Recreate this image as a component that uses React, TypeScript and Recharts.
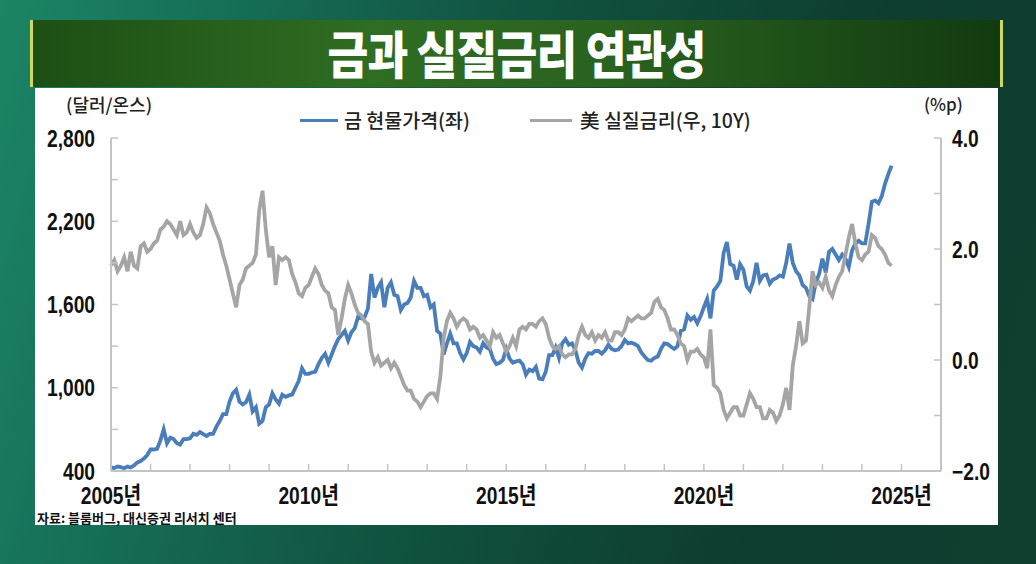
import React from 'react';
import { LineChart, Line, XAxis, YAxis } from 'recharts';

// monthly, Jan 2005 - Oct 2024
const startYear = 2005;

// 금 현물가격 (달러/온스)
const gold = [
  425, 422, 432, 428, 420, 432, 425, 440, 462, 472, 490, 515,
  555, 555, 560, 620, 700, 600, 640, 630, 600, 590, 630, 630,
  635, 668, 660, 680, 665, 652, 668, 668, 720, 760, 810, 810,
  900, 960, 985, 900, 880, 895, 950, 830, 860, 740, 760, 860,
  880, 960, 915, 885, 950, 935, 945, 950, 1000, 1050, 1140, 1100,
  1100, 1110, 1115, 1170, 1215, 1245, 1180, 1240, 1300, 1350, 1380, 1410,
  1340, 1400, 1430, 1510, 1500, 1510, 1570, 1820, 1650, 1720, 1760, 1580,
  1720, 1760, 1670, 1660, 1560, 1600, 1610, 1650, 1770, 1720, 1720, 1660,
  1670, 1580, 1600, 1410, 1390, 1240, 1320, 1390, 1320, 1320, 1250, 1205,
  1250, 1330, 1300, 1290, 1260, 1320, 1290, 1280, 1210, 1170, 1180, 1200,
  1280, 1210, 1180, 1190, 1195, 1170, 1095, 1130, 1120, 1150, 1065, 1060,
  1115, 1235, 1235, 1290, 1215, 1320, 1350, 1310, 1320, 1270, 1180, 1145,
  1210, 1250, 1245, 1265, 1265, 1245, 1270, 1310, 1280, 1270, 1275, 1300,
  1345, 1320, 1325, 1315, 1300, 1255, 1225, 1200, 1195, 1215, 1225, 1280,
  1320, 1315, 1295, 1280, 1300, 1410, 1420, 1520, 1490, 1510, 1465, 1515,
  1580, 1640, 1500, 1700, 1730, 1770, 1970, 2050, 1890, 1880, 1780, 1890,
  1850, 1730, 1700, 1770, 1900, 1770, 1810, 1815, 1750, 1780, 1790, 1810,
  1800, 1900, 2040, 1900, 1840, 1810, 1740, 1720, 1660, 1640, 1760, 1820,
  1930, 1830, 1980, 2000, 1960, 1920, 1960, 1930, 1870, 1990, 2040, 2060,
  2040, 2040, 2180, 2340, 2350, 2330, 2380, 2470, 2540, 2600,
];

// 美 실질금리 (10Y, %p)
const realRate = [
  1.70, 1.80, 1.60, 1.70, 1.85, 1.60, 1.95, 1.70, 1.65, 2.05, 2.10, 1.95,
  2.00, 2.10, 2.15, 2.35, 2.40, 2.50, 2.45, 2.35, 2.25, 2.50, 2.25, 2.30,
  2.45, 2.30, 2.20, 2.25, 2.45, 2.75, 2.65, 2.45, 2.30, 2.15, 1.90, 1.70,
  1.45, 1.20, 0.95, 1.35, 1.45, 1.65, 1.70, 1.75, 1.90, 2.70, 3.05, 2.35,
  1.85, 2.05, 1.35, 1.85, 1.80, 1.85, 1.80, 1.55, 1.40, 1.20, 1.15, 1.30,
  1.35, 1.50, 1.65, 1.55, 1.35, 1.25, 1.20, 0.95, 0.90, 0.45, 0.75, 1.10,
  1.35, 1.20, 1.00, 0.85, 0.80, 0.70, 0.65, 0.15, -0.05, 0.05, -0.10, -0.05,
  0.00, -0.15, -0.05, -0.15, -0.30, -0.45, -0.55, -0.55, -0.70, -0.75, -0.85, -0.75,
  -0.65, -0.60, -0.60, -0.70, -0.30, 0.40, 0.70, 0.85, 0.75, 0.60, 0.70, 0.75,
  0.70, 0.55, 0.60, 0.55, 0.40, 0.45, 0.35, 0.25, 0.50, 0.40, 0.45, 0.30,
  0.15, 0.25, 0.40, 0.25, 0.55, 0.60, 0.55, 0.65, 0.65, 0.60, 0.70, 0.75,
  0.65, 0.40, 0.25, 0.20, 0.25, 0.10, 0.05, 0.10, 0.10, 0.20, 0.45, 0.60,
  0.45, 0.40, 0.50, 0.35, 0.45, 0.40, 0.50, 0.35, 0.35, 0.50, 0.50, 0.45,
  0.55, 0.75, 0.70, 0.75, 0.80, 0.75, 0.75, 0.80, 0.85, 1.05, 1.10, 0.95,
  0.90, 0.75, 0.55, 0.55, 0.45, 0.30, 0.25, 0.00, 0.15, 0.15, 0.20, 0.10,
  0.05, -0.15, 0.55, -0.45, -0.50, -0.60, -0.90, -1.05, -0.95, -0.85, -0.85, -1.00,
  -1.00, -0.80, -0.60, -0.70, -0.85, -0.85, -1.05, -1.05, -0.90, -0.95, -1.10, -1.00,
  -0.80, -0.50, -0.90, -0.10, 0.25, 0.70, 0.30, 0.35, 0.95, 1.60, 1.35, 1.40,
  1.30, 1.50, 1.25, 1.15, 1.35, 1.50, 1.60, 1.90, 2.20, 2.45, 2.10, 1.85,
  1.80, 1.90, 1.95, 2.25, 2.20, 2.05, 2.00, 1.90, 1.75, 1.70,
];

const yearTicks = [
  2005, 2006, 2007, 2008, 2009, 2010, 2011, 2012, 2013, 2014, 2015,
  2016, 2017, 2018, 2019, 2020, 2021, 2022, 2023, 2024, 2025, 2026,
];
const goldTicks = [400, 700, 1000, 1300, 1600, 1900, 2200, 2500, 2800];
const rateTicks = [-2, -1, 0, 1, 2, 3, 4];

const data = gold.map((g, i) => ({ t: startYear + i / 12, gold: g, rate: realRate[i] }));

const BLUE = '#4a7ebb';
const GRAY = '#a5a5a5';
const AXIS = '#c4c4c4';
const tickFont = '"Liberation Sans", "Noto Sans CJK KR", sans-serif';

// condensed bold label, like the original's narrow font
const Label = ({ x, y, anchor, children }: any) => (
  <text
    transform={`translate(${x},${y}) scale(0.8,1)`}
    textAnchor={anchor}
    fontSize={24}
    fontWeight="bold"
    fontFamily={tickFont}
    fill="#111"
  >
    {children}
  </text>
);

const LeftTick = (props: any) => {
  const { x, y, payload } = props;
  const v = payload.value;
  return (
    <g>
      <line x1={x} x2={x + 7} y1={y} y2={y} stroke={AXIS} strokeWidth={1.5} />
      {(v - 400) % 600 === 0 && (
        <Label x={x - 16} y={y + 8.5} anchor="end">
          {v.toLocaleString('en-US')}
        </Label>
      )}
    </g>
  );
};

const RightTick = (props: any) => {
  const { x, y, payload } = props;
  const v = payload.value;
  return (
    <g>
      <line x1={x} x2={x - 7} y1={y} y2={y} stroke={AXIS} strokeWidth={1.5} />
      {v % 2 === 0 && (
        <Label x={x + 11} y={y + 8.5} anchor="start">
          {v < 0 ? '\u2212' + Math.abs(v).toFixed(1) : v.toFixed(1)}
        </Label>
      )}
    </g>
  );
};

const BottomTick = (props: any) => {
  const { x, y, payload } = props;
  const v = payload.value;
  return (
    <g>
      <line x1={x} x2={x} y1={y} y2={y - 7} stroke={AXIS} strokeWidth={1.5} />
      {v % 5 === 0 && (
        <Label x={x} y={y + 33} anchor="middle">
          {v}년
        </Label>
      )}
    </g>
  );
};

const kr = '"Noto Sans CJK KR", sans-serif';

export default function App() {
  return (
    <div
      style={{
        position: 'absolute',
        left: 0,
        top: 0,
        width: 1036,
        height: 564,
        overflow: 'hidden',
        background: 'linear-gradient(105deg, #1c8566 0%, #167058 18%, #115241 45%, #0d3d2f 75%, #103f30 100%)',
        fontFamily: kr,
      }}
    >
      {/* title bar */}
      <div
        style={{
          position: 'absolute',
          left: 30,
          top: 20,
          width: 973,
          height: 67,
          background: 'linear-gradient(90deg, #1d4f14 0%, #2f6d22 35%, #2a6220 60%, #123a10 100%)',
          borderLeft: '3px solid #cfd85a',
          borderRight: '3px solid #cfd85a',
          boxSizing: 'border-box',
        }}
      />
      <div
        style={{
          position: 'absolute',
          left: 30,
          top: 20,
          width: 973,
          height: 67,
          color: '#fff',
          fontSize: 51,
          fontWeight: 900,
          textAlign: 'center',
          lineHeight: '64px',
          letterSpacing: -1,
          transform: 'scaleX(0.87)',
        }}
      >
        금과 실질금리 연관성
      </div>
      {/* white panel */}
      <div style={{ position: 'absolute', left: 35, top: 88, width: 963, height: 437, background: '#fff' }} />
      <div style={{ position: 'absolute', left: 66, top: 91, fontSize: 18, color: '#222', fontWeight: 500 }}>(달러/온스)</div>
      <div style={{ position: 'absolute', left: 924, top: 91, fontSize: 17, color: '#222', fontWeight: 500 }}>(%p)</div>
      {/* legend */}
      <div style={{ position: 'absolute', left: 300, top: 119, width: 38, height: 3, background: BLUE }} />
      <div style={{ position: 'absolute', left: 344, top: 105, fontSize: 19.5, color: '#222', fontWeight: 500 }}>금 현물가격(좌)</div>
      <div style={{ position: 'absolute', left: 530, top: 119, width: 42, height: 3, background: GRAY }} />
      <div style={{ position: 'absolute', left: 580, top: 105, fontSize: 19.5, color: '#222', fontWeight: 500 }}>美 실질금리(우, 10Y)</div>
      <div
        style={{
          position: 'absolute',
          left: 37,
          top: 511,
          fontSize: 13,
          lineHeight: '14px',
          color: '#111',
          fontWeight: 700,
        }}
      >
        자료: 블룸버그, 대신증권 리서치 센터
      </div>
      <div style={{ position: 'absolute', left: 0, top: 0 }}>
        <LineChart width={1036} height={564} data={data} margin={{ top: 138, right: 0, bottom: 63, left: 0 }}>
          <XAxis
            dataKey="t"
            type="number"
            domain={[2005, 2026]}
            ticks={yearTicks}
            interval={0}
            height={30}
            tickSize={0}
            tickMargin={0}
            tickLine={false}
            axisLine={{ stroke: AXIS, strokeWidth: 2 }}
            tick={<BottomTick />}
          />
          <YAxis
            yAxisId="left"
            domain={[400, 2800]}
            ticks={goldTicks}
            interval={0}
            width={111}
            tickSize={0}
            tickMargin={0}
            tickLine={false}
            axisLine={{ stroke: AXIS, strokeWidth: 2 }}
            tick={<LeftTick />}
          />
          <YAxis
            yAxisId="right"
            orientation="right"
            domain={[-2, 4]}
            ticks={rateTicks}
            interval={0}
            width={95}
            tickSize={0}
            tickMargin={0}
            tickLine={false}
            axisLine={{ stroke: AXIS, strokeWidth: 2 }}
            tick={<RightTick />}
          />
          <Line
            yAxisId="left"
            dataKey="gold"
            type="linear"
            stroke={BLUE}
            strokeWidth={3.8}
            dot={false}
            isAnimationActive={false}
          />
          <Line
            yAxisId="right"
            dataKey="rate"
            type="linear"
            stroke={GRAY}
            strokeWidth={3.8}
            dot={false}
            isAnimationActive={false}
          />
        </LineChart>
      </div>
    </div>
  );
}
